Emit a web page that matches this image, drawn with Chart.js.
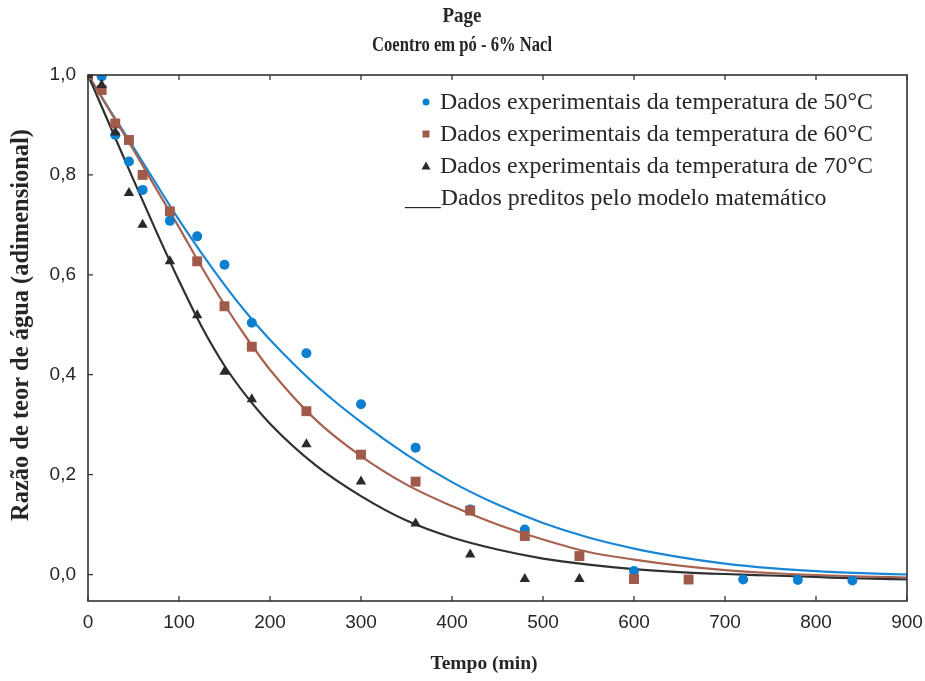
<!DOCTYPE html>
<html><head><meta charset="utf-8">
<script src="https://cdn.jsdelivr.net/npm/chart.js@4.4.1/dist/chart.umd.min.js"></script>
<style>html,body{margin:0;padding:0;background:#fff}</style>
</head><body>
<canvas id="c" width="925" height="681"></canvas>
<script>
// ---- data ----
const titleLines = ['Page', 'Coentro em pó - 6% Nacl'];
const xTitle = 'Tempo (min)';
const yTitle = 'Razão de teor de água (adimensional)';
const legendLabels = [
  'Dados experimentais da temperatura de 50°C',
  'Dados experimentais da temperatura de 60°C',
  'Dados experimentais da temperatura de 70°C',
  '___Dados preditos pelo modelo matemático'
];
const xTicks = [0, 100, 200, 300, 400, 500, 600, 700, 800, 900];
const yTicks = [0.0, 0.2, 0.4, 0.6, 0.8, 1.0];

const times50 = [0, 15, 30, 45, 60, 90, 120, 150, 180, 240, 300, 360, 420, 480, 600, 720, 780, 840];
const vals50  = [1.0, 0.997, 0.88, 0.827, 0.77, 0.708, 0.677, 0.62, 0.504, 0.443, 0.341, 0.254, 0.13, 0.09, 0.007, -0.01, -0.011, -0.012];

const times60 = [0, 15, 30, 45, 60, 90, 120, 150, 180, 240, 300, 360, 420, 480, 540, 600, 660];
const vals60  = [1.0, 0.97, 0.903, 0.87, 0.80, 0.727, 0.627, 0.537, 0.456, 0.327, 0.24, 0.186, 0.128, 0.077, 0.037, -0.009, -0.01];

const times70 = [0, 15, 30, 45, 60, 90, 120, 150, 180, 240, 300, 360, 420, 480, 540];
const vals70  = [1.0, 0.98, 0.885, 0.764, 0.70, 0.627, 0.519, 0.406, 0.351, 0.261, 0.186, 0.102, 0.04, -0.009, -0.009];

const curveTimes = [0, 25, 50, 75, 100, 125, 150, 175, 200, 250, 300, 350, 400, 450, 500, 550, 600, 650, 700, 750, 800, 850, 900];
const model50 = [1.0, 0.927, 0.855, 0.782, 0.71, 0.643, 0.58, 0.522, 0.47, 0.38, 0.305, 0.24, 0.185, 0.14, 0.103, 0.074, 0.052, 0.035, 0.022, 0.013, 0.007, 0.003, 0.0];
const model60 = [1.0, 0.925, 0.85, 0.772, 0.695, 0.615, 0.54, 0.472, 0.41, 0.31, 0.237, 0.18, 0.137, 0.10, 0.07, 0.045, 0.03, 0.018, 0.009, 0.003, -0.001, -0.004, -0.006];
const model70 = [1.0, 0.895, 0.79, 0.687, 0.588, 0.496, 0.418, 0.355, 0.302, 0.219, 0.157, 0.108, 0.074, 0.05, 0.032, 0.02, 0.011, 0.005, 0.001, -0.002, -0.005, -0.008, -0.01];

// ---- styles ----
const BLUE = '#0b7fd0', BROWN = '#a05a4a', BLACK = '#2a2a2a';
const LBLUE = '#1a86d6', LBROWN = '#a86350', LBLACK = '#303030';
const INK = '#262626';

const pts = (xs, ys) => xs.map((x, i) => ({x, y: ys[i]}));

const frame = {
  id: 'frame',
  afterDatasetsDraw(chart) {
    const {ctx, chartArea: a, scales: {x, y}} = chart;
    ctx.save();
    ctx.strokeStyle = '#333';
    ctx.lineWidth = 1.6;
    ctx.strokeRect(a.left, a.top, a.right - a.left, a.bottom - a.top);
    ctx.lineWidth = 1.3;
    ctx.beginPath();
    xTicks.forEach(v => {
      const px = x.getPixelForValue(v);
      ctx.moveTo(px, a.bottom); ctx.lineTo(px, a.bottom - 5);
      ctx.moveTo(px, a.top); ctx.lineTo(px, a.top + 5);
    });
    yTicks.forEach(v => {
      const py = y.getPixelForValue(v);
      ctx.moveTo(a.left, py); ctx.lineTo(a.left + 5, py);
    });
    ctx.stroke();
    ctx.restore();
  }
};

function fitText(ctx, text, cx, cy, targetW, size, weight) {
  ctx.font = weight + ' ' + size + 'px "Liberation Serif"';
  const w = ctx.measureText(text).width;
  ctx.save();
  ctx.translate(cx, cy);
  ctx.scale(targetW / w, 1);
  ctx.fillText(text, 0, 0);
  ctx.restore();
}

const texts = {
  id: 'texts',
  afterDraw(chart) {
    const {ctx} = chart;
    ctx.save();
    ctx.fillStyle = INK;
    ctx.textAlign = 'center';
    ctx.textBaseline = 'middle';
    // titles
    fitText(ctx, titleLines[0], 462, 17, 39, 21, 'bold');
    fitText(ctx, titleLines[1], 462, 46, 180, 21, 'bold');
    // axis titles
    ctx.font = 'bold 19.5px "Liberation Serif"';
    ctx.fillText(xTitle, 484, 664);
    ctx.save();
    ctx.translate(22, 325);
    ctx.rotate(-Math.PI / 2);
    ctx.font = 'bold 20px "Liberation Serif"';
    const yw = ctx.measureText(yTitle).width;
    const yfs = 20 * 392 / yw;
    ctx.font = 'bold ' + yfs.toFixed(2) + 'px "Liberation Serif"';
    ctx.fillText(yTitle, 0, 0);
    ctx.restore();
    // legend
    ctx.textAlign = 'left';
    let fs = 21;
    ctx.font = fs + 'px "Liberation Serif"';
    const w = ctx.measureText(legendLabels[0]).width;
    fs = fs * 433 / w;
    ctx.font = fs.toFixed(2) + 'px "Liberation Serif"';
    const rows = [102, 134, 166, 198];
    ctx.fillText(legendLabels[0], 440, rows[0] + 1);
    ctx.fillText(legendLabels[1], 440, rows[1] + 1);
    ctx.fillText(legendLabels[2], 440, rows[2] + 1);
    ctx.fillText(legendLabels[3], 405, rows[3] + 1);
    // markers
    ctx.fillStyle = BLUE;
    ctx.beginPath(); ctx.arc(426, rows[0], 3.5, 0, Math.PI * 2); ctx.fill();
    ctx.fillStyle = BROWN;
    ctx.fillRect(422.5, rows[1] - 3.5, 7, 7);
    ctx.fillStyle = BLACK;
    ctx.beginPath(); ctx.moveTo(426, rows[2] - 4.5); ctx.lineTo(430.5, rows[2] + 3.5); ctx.lineTo(421.5, rows[2] + 3.5); ctx.closePath(); ctx.fill();
    ctx.restore();
  }
};

const lineDs = (data, color, order) => ({
  type: 'line', data, borderColor: color, borderWidth: 2.2, pointRadius: 0,
  fill: false, cubicInterpolationMode: 'monotone', order, showLine: true
});

new Chart(document.getElementById('c'), {
  type: 'scatter',
  data: {
    datasets: [
      lineDs(pts(curveTimes, model50), LBLUE, 6),
      lineDs(pts(curveTimes, model60), LBROWN, 5),
      lineDs(pts(curveTimes, model70), LBLACK, 4),
      {data: pts(times50, vals50), pointStyle: 'circle', pointRadius: 5, backgroundColor: BLUE, borderColor: BLUE, borderWidth: 0, order: 3},
      {data: pts(times60, vals60), pointStyle: 'rect', pointRadius: 7, backgroundColor: BROWN, borderColor: BROWN, borderWidth: 0, order: 2},
      {data: pts(times70, vals70), pointStyle: 'triangle', pointRadius: 6, backgroundColor: BLACK, borderColor: BLACK, borderWidth: 0, order: 1}
    ]
  },
  options: {
    responsive: false,
    animation: false,
    devicePixelRatio: 1,
    layout: {padding: {left: 0, right: 0, top: 75, bottom: 0}},
    plugins: {
      legend: {display: false},
      tooltip: {enabled: false},
      title: {display: false}
    },
    scales: {
      x: {
        type: 'linear', min: 0, max: 900,
        afterBuildTicks: s => { s.ticks = xTicks.map(v => ({value: v})); },
        afterFit: s => { s.height = 80; s.paddingRight = 18; s.paddingLeft = 0; },
        grid: {display: false, drawTicks: false},
        border: {display: false},
        ticks: {color: INK, padding: 10, font: {family: '"Liberation Sans"', size: 19}, callback: v => String(v)}
      },
      y: {
        type: 'linear', min: -0.053, max: 1.0,
        afterBuildTicks: s => { s.ticks = yTicks.map(v => ({value: v})); },
        afterFit: s => { s.width = 88; },
        grid: {display: false, drawTicks: false},
        border: {display: false},
        ticks: {color: INK, padding: 12, font: {family: '"Liberation Sans"', size: 19}, callback: v => v.toFixed(1).replace('.', ',')}
      }
    }
  },
  plugins: [frame, texts]
});
</script>
</body></html>
